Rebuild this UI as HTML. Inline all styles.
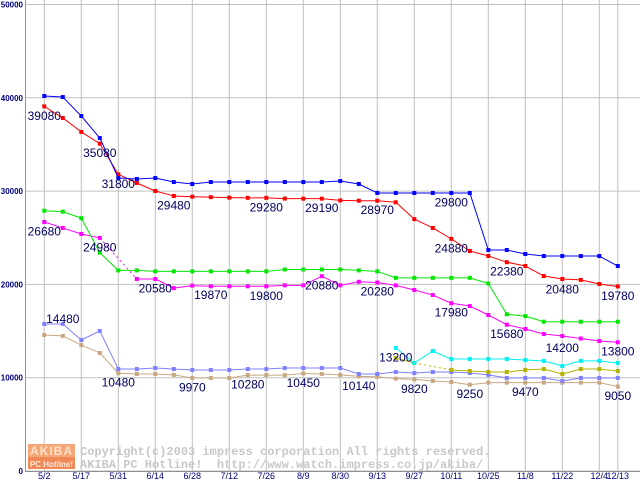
<!DOCTYPE html>
<html><head><meta charset="utf-8">
<style>
html,body{margin:0;padding:0;background:#fff;width:640px;height:480px;overflow:hidden}
svg{display:block}
text{font-family:"Liberation Sans",sans-serif}
</style></head>
<body>
<svg id="chart" width="640" height="480" viewBox="0 0 640 480" xmlns="http://www.w3.org/2000/svg">
<g id="grid"></g>
<g id="axes"></g>
<g id="watermark">
  <rect x="28" y="444" width="47" height="13" fill="#f4a878"/>
  <rect x="28" y="457" width="47" height="12" fill="#f08858"/>
  <text x="51.5" y="455" font-size="12" font-weight="bold" fill="#ffe0c8" text-anchor="middle" letter-spacing="1">AKIBA</text>
  <text x="51.5" y="467" font-size="8" font-weight="bold" fill="#ffe8d8" text-anchor="middle">PC Hotline!</text>
  <text x="80" y="455" font-size="12" font-weight="bold" fill="#c8c8c8" style="font-family:'Liberation Mono',monospace">Copyright(c)2003 impress corporation All rights reserved.</text>
  <text x="80" y="468" font-size="12" font-weight="bold" fill="#c8c8c8" style="font-family:'Liberation Mono',monospace" xml:space="preserve">AKIBA PC Hotline!  http://www.watch.impress.co.jp/akiba/</text>
</g>
<g id="series"></g>
<g id="labels"></g>
</svg>
<script>
const categories=["5/2","5/10","5/17","5/24","5/31","6/7","6/14","6/21","6/28","7/5","7/12","7/19","7/26","8/2","8/9","8/16","8/30","9/6","9/13","9/20","9/27","10/4","10/11","10/18","10/25","11/1","11/8","11/15","11/22","11/29","12/4","12/13"];
const xTickIdx=[0,2,4,6,8,10,12,14,16,18,20,22,24,26,28,30,31];
const yTicks=[0,10000,20000,30000,40000,50000];
const blueVals=[40190,40080,38050,35690,31400,31300,31400,30970,30760,30970,30970,30970,30970,30970,30970,30970,31080,30760,29800,29800,29800,29800,29800,29800,23690,23690,23260,23040,23040,23040,23040,21970];
const redVals=[39080,37840,36340,35080,31800,30870,30010,29480,29400,29350,29300,29280,29280,29200,29190,29190,29000,28970,28970,28800,27000,26050,24880,23580,23050,22380,21970,20900,20580,20480,20040,19780];
const greenVals=[27900,27800,27100,23400,21500,21500,21400,21400,21400,21400,21400,21400,21400,21600,21600,21600,21600,21500,21400,20700,20700,20700,20700,20700,20100,16800,16600,16000,16000,16000,16000,16000];
const magentaVals=[26690,26050,25400,24980,null,20580,20580,19600,19870,19800,19800,19800,19800,19900,19900,20880,19900,20280,20200,19900,19400,18860,17980,17680,16720,15680,15220,14680,14470,14200,13930,13800];
const periVals=[15760,15760,14040,15010,10930,10930,11040,10930,10830,10830,10830,10930,10930,11040,11040,11040,11040,10400,10400,10610,10500,10610,10610,10500,10300,9970,9970,9970,9650,9970,9970,9970];
const tanVals=[14580,14480,13500,12650,10480,10400,10400,10300,9970,9970,9970,10280,10280,10280,10450,10400,10300,10140,10100,9900,9820,9650,9540,9250,9470,9470,9470,9470,9470,9470,9470,9050];
const oliveVals=[null,null,null,null,null,null,null,null,null,null,null,null,null,null,null,null,null,null,null,12100,11580,null,10830,10720,10610,10610,10830,10930,10400,10930,10930,10720];
const cyanVals=[null,null,null,null,null,null,null,null,null,null,null,null,null,null,null,null,null,null,null,13200,11580,12860,12000,12000,12000,12000,11900,11800,11250,11800,11800,11580];
const labelText=["39080","35080","31800","29480","29280","29190","28970","29800","24880","22380","20480","19780","26680","24980","20580","19870","19800","20880","20280","17980","15680","14200","13800","13200","14480","10480","9970","10280","10450","10140","9820","9250","9470","9050"];
const labelIdx=[0,3,4,7,12,15,18,22,22,25,28,31,0,3,6,9,12,15,18,22,25,28,31,19,1,4,8,11,14,17,20,23,26,31];

const X0=44.3, DX=18.5, Y0=471, YMAX=50000, YTOP=4.5;
function xs(i){return X0+i*DX;}
function ys(v){return Y0-(v/YMAX)*(Y0-YTOP);}
const NS="http://www.w3.org/2000/svg";
function mk(tag,attrs,parent){const e=document.createElementNS(NS,tag);for(const k in attrs)e.setAttribute(k,attrs[k]);parent.appendChild(e);return e;}
const grid=document.getElementById('grid'), axes=document.getElementById('axes'), ser=document.getElementById('series'), lab=document.getElementById('labels');

yTicks.forEach(t=>{
  const l=mk('line',{x1:25,x2:640,y1:ys(t),y2:ys(t),stroke:'#c0c0c0','stroke-width':1},grid);
  
  
  const tx=mk('text',{x:23,y:ys(t)+3,'font-size':8,'font-weight':'bold',fill:'#000080','text-anchor':'end'},axes);
  tx.textContent=t;
  
  
});
xTickIdx.forEach(i=>{
  const l=mk('line',{x1:xs(i),x2:xs(i),y1:0,y2:471,stroke:'#c0c0c0','stroke-width':1},grid);
  
  
  const tx=mk('text',{x:xs(i),y:479,'font-size':9,fill:'#000080','text-anchor':'middle'},axes);
  tx.textContent=categories[i];
  
  
});
const ax=mk('line',{x1:25.5,x2:25.5,y1:0,y2:471,stroke:'#909090','stroke-width':1},axes);


const bx=mk('line',{x1:25,x2:640,y1:471.5,y2:471.5,stroke:'#909090','stroke-width':1},axes);



function drawSeries(vals,color,name){
  const g=mk('g',{},ser);
  
  
  let prev=-1;
  for(let i=0;i<vals.length;i++){
    if(vals[i]==null)continue;
    if(prev>=0){
      const gap=i-prev>1;
      const l=mk('line',{x1:xs(prev),y1:ys(vals[prev]),x2:xs(i),y2:ys(vals[i]),stroke:color,'stroke-width':1,'stroke-dasharray':gap?'2,3':'none'},g);
      
      
    }
    prev=i;
  }
  vals.forEach((v,i)=>{
    if(v==null)return;
    const r=mk('rect',{x:xs(i)-2,y:ys(v)-2,width:4,height:4,fill:color},g);
    
    
  });
}
drawSeries(tanVals,'#c8a880','tan-series');
drawSeries(periVals,'#8080ff','periwinkle-series');
drawSeries(oliveVals,'#b4b400','olive-series');
drawSeries(cyanVals,'#00f0f0','cyan-series');
drawSeries(magentaVals,'#ff00ff','magenta-series');
drawSeries(greenVals,'#00e800','green-series');
drawSeries(redVals,'#ff0000','red-series');
drawSeries(blueVals,'#0000ff','blue-series');

labelText.forEach((t,k)=>{
  const v=parseFloat(t);
  let y=ys(v)+13.5;
  if(t==="14480")y=ys(v)-13;
  const tx=mk('text',{x:xs(labelIdx[k]),y:y,'font-size':12,fill:'#000060','text-anchor':'middle'},lab);
  tx.textContent=t;
  
  
});
</script>
</body></html>
